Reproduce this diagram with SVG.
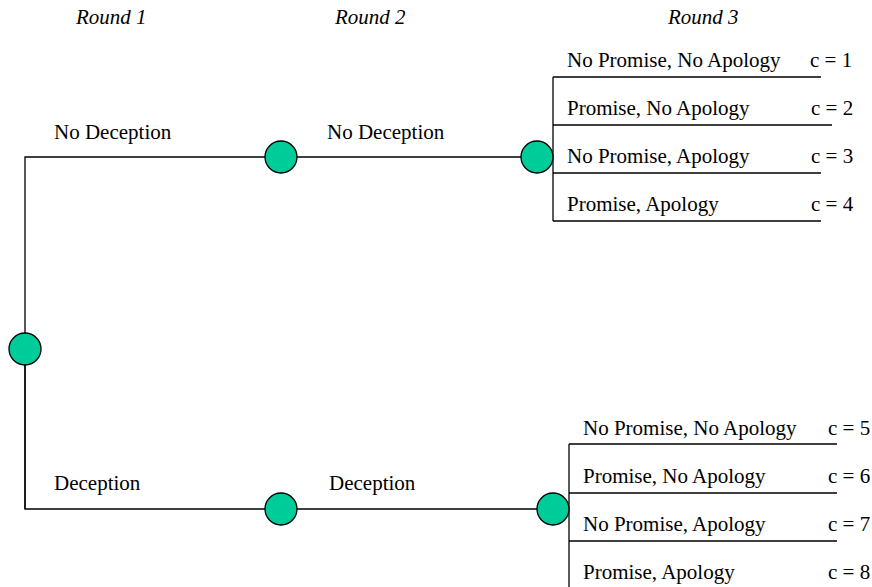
<svg xmlns="http://www.w3.org/2000/svg" width="872" height="587" viewBox="0 0 872 587">
<style>
.ln{stroke:#000;stroke-width:1.3;fill:none}
.nd{fill:#00CC99;stroke:#000;stroke-width:1.3}
text{font-family:"Liberation Serif","Times New Roman",serif;font-size:21px;fill:#000}
.rd{font-style:italic}
</style>
<rect width="872" height="587" fill="#fff"/>
<g id="headers">
<text class="rd" x="76" y="24">Round 1</text>
<text class="rd" x="335" y="24">Round 2</text>
<text class="rd" x="668" y="24">Round 3</text>
</g>
<g id="connectors">
<path class="ln" d="M25,509 V157 H537"/>
<path class="ln" d="M25,349 V509 H553"/>
<path class="ln" d="M553,77 V221"/>
<path class="ln" d="M553,77 H821 M553,125 H832 M553,173 H821 M553,221 H821"/>
<path class="ln" d="M569,444 V587"/>
<path class="ln" d="M569,444 H837 M569,493 H837 M569,541 H837"/>
</g>
<g id="edge-labels">
<text x="54" y="139">No Deception</text>
<text x="327" y="139">No Deception</text>
<text x="54" y="490">Deception</text>
<text x="329" y="490">Deception</text>
</g>
<g id="root"><circle class="nd" cx="25" cy="349" r="16"/></g>
<g id="n-nd1"><circle class="nd" cx="281" cy="157" r="16"/></g>
<g id="n-nd2"><circle class="nd" cx="537" cy="157" r="16"/></g>
<g id="n-d1"><circle class="nd" cx="281" cy="509" r="16"/></g>
<g id="n-d2"><circle class="nd" cx="553" cy="509" r="16"/></g>
<g id="outcomes-top">
<text x="567" y="67">No Promise, No Apology</text><text x="810" y="67">c = 1</text>
<text x="567" y="115">Promise, No Apology</text><text x="811" y="115">c = 2</text>
<text x="567" y="163">No Promise, Apology</text><text x="811" y="163">c = 3</text>
<text x="567" y="211">Promise, Apology</text><text x="811" y="211">c = 4</text>
</g>
<g id="outcomes-bottom">
<text x="583" y="435">No Promise, No Apology</text><text x="828" y="435">c = 5</text>
<text x="583" y="483">Promise, No Apology</text><text x="828" y="483">c = 6</text>
<text x="583" y="531">No Promise, Apology</text><text x="828" y="531">c = 7</text>
<text x="583" y="579">Promise, Apology</text><text x="828" y="579">c = 8</text>
</g>
</svg>
